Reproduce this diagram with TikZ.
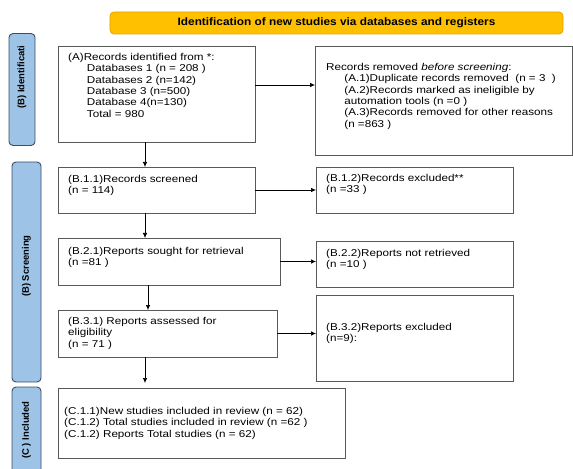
\documentclass[tikz,border=0pt]{standalone}
\usepackage{fontspec}
\setmainfont{Liberation Sans}
\usetikzlibrary{arrows.meta}
\definecolor{barblue}{HTML}{9DC3E6}
\definecolor{barline}{HTML}{3A4E66}
\definecolor{titlefill}{HTML}{FFC000}
\definecolor{titleline}{HTML}{E3A600}
\definecolor{boxline}{HTML}{595959}
\begin{document}
\begin{tikzpicture}[
        x=1bp, y=-1bp,
        box/.style={
          draw=boxline,
          line width=0.8pt,
          anchor=north west,
          inner sep=0pt,
          outer sep=0pt
        },
        txt/.style={
          anchor=north west,
          inner sep=0pt,
          align=left,
          xscale=1.17,
          font=\fontsize{10}{11.4}\selectfont
        },
        phasebar/.style={
          draw=barline,
          fill=barblue,
          line width=0.9pt,
          rounded corners=4pt,
          inner sep=0pt
        },
        phaselabel/.style={rotate=90, inner sep=0pt, font=\fontsize{9.5}{11}\selectfont\bfseries},
        flow/.style={-{Latex[length=5bp,width=4.5bp]}, line width=0.7pt}
      ]
      \clip (0,0) rectangle (573,469);

      % title and phase bars
      \node[draw=titleline, fill=titlefill, line width=0.8pt, rounded corners=4pt,
        minimum width=453bp, minimum height=22bp] (title) at (336.5,23) {};
      \node[xscale=1.1, font=\fontsize{10.8}{12}\selectfont\bfseries] (titletext) at (title)
        {Identification of new studies via databases and registers};
      \node[phasebar, minimum width=26bp, minimum height=112bp] (idbar) at (22,89.5) {};
      \node[phaselabel] (idlabel) at (22,77) {(B) Identificati};
      \node[phasebar, minimum width=29bp, minimum height=220bp] (scbar) at (26.5,272) {};
      \node[phaselabel] (sclabel) at (26.5,266) {(B) Screening};
      \node[phasebar, minimum width=29bp, minimum height=100bp] (inbar) at (26.5,437) {};
      \node[phaselabel] (inlabel) at (26.5,430) {(C ) Included};

      % boxes
      \node[box, minimum width=197bp, minimum height=96bp] (A) at (58,46) {};
      \node[box, minimum width=257bp, minimum height=109bp] (removed) at (315,46) {};
      \node[box, minimum width=197bp, minimum height=46bp] (B11) at (58,167) {};
      \node[box, minimum width=197bp, minimum height=46bp] (B12) at (316,167) {};
      \node[box, minimum width=222bp, minimum height=47bp] (B21) at (58,238) {};
      \node[box, minimum width=197bp, minimum height=46bp] (B22) at (316,241) {};
      \node[box, minimum width=219bp, minimum height=47bp] (B31) at (58,310) {};
      \node[box, minimum width=197bp, minimum height=86bp] (B32) at (316,295) {};
      \node[box, minimum width=287bp, minimum height=70bp] (C) at (58,388) {};

      % texts
      \node[txt] (Atext) at (68,53)
        {(A)Records identified from *:\\
         \hspace*{16bp}Databases 1 (n = 208 )\\
         \hspace*{16bp}Databases 2 (n=142)\\
         \hspace*{16bp}Database 3 (n=500)\\
         \hspace*{16bp}Database 4(n=130)\\
         \hspace*{16bp}Total = 980};
      \node[txt] (removedtext) at (326,63)
        {Records removed \textit{before screening}:\\
         \hspace*{15.5bp}(A.1)Duplicate records removed\ \ (n = 3\ \ )\\
         \hspace*{15.5bp}(A.2)Records marked as ineligible by\\
         \hspace*{15.5bp}automation tools (n =0 )\\
         \hspace*{15.5bp}(A.3)Records removed for other reasons\\
         \hspace*{15.5bp}(n =863 )};
      \node[txt] (B11text) at (68,175) {(B.1.1)Records screened\\(n = 114)};
      \node[txt] (B12text) at (326,174) {(B.1.2)Records excluded**\\(n =33 )};
      \node[txt] (B21text) at (68,247) {(B.2.1)Reports sought for retrieval\\(n =81 )};
      \node[txt] (B22text) at (326,249) {(B.2.2)Reports not retrieved\\(n =10 )};
      \node[txt] (B31text) at (68,317)
        {(B.3.1) Reports assessed for\\eligibility\\(n = 71 )};
      \node[txt] (B32text) at (326,323) {(B.3.2)Reports excluded\\(n=9):};
      \node[txt] (Ctext) at (64,407)
        {(C.1.1)New studies included in review (n = 62)\\
         (C.1.2) Total studies included in review (n =62 )\\
         (C.1.2) Reports Total studies (n = 62)};

      % connectors
      \draw[flow] ([yshift=9bp]A.east) -- ([yshift=9bp]A.east -| removed.west);
      \draw[flow] ([xshift=-11.5bp]A.south) -- ([xshift=-11.5bp]A.south |- B11.north);
      \draw[flow] (B11.east) -- (B11.east -| B12.west);
      \draw[flow] ([xshift=-11.5bp]B11.south) -- ([xshift=-11.5bp]B11.south |- B21.north);
      \draw[flow] (B21.east) -- (B21.east -| B22.west);
      \draw[flow] ([xshift=-21bp]B21.south) -- ([xshift=-21bp]B21.south |- B31.north);
      \draw[flow] (B31.east) -- (B31.east -| B32.west);
      \draw[flow, shorten >=5bp] ([xshift=-22.5bp]B31.south) -- ([xshift=-22.5bp]B31.south |- C.north);
    \end{tikzpicture}
\end{document}
